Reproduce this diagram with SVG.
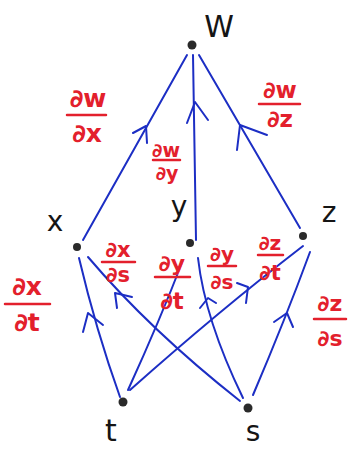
<svg xmlns="http://www.w3.org/2000/svg" width="350" height="450" viewBox="0 0 350 450">
<style>
.e{fill:none;stroke:#1c2ec4;stroke-width:2;stroke-linecap:round;stroke-linejoin:round}
.dot{fill:#2a2a2a}
.lbl{font-family:"DejaVu Sans",sans-serif;fill:#151515;text-anchor:middle}
.fr{font-family:"DejaVu Sans",sans-serif;fill:#e3202c;text-anchor:middle;font-weight:bold}
.bar{stroke:#e3202c;stroke-width:2.5;stroke-linecap:round}
</style>
<rect width="350" height="450" fill="#ffffff"/>
<g id="connectors">
  <path class="e" d="M187,55 L83,240"/>
  <path class="e" d="M133,133 L146,126 L147,143"/>
  <path class="e" d="M193,55 L196,240"/>
  <path class="e" d="M187,123 L195,102 L208,120"/>
  <path class="e" d="M199,55 L300,228"/>
  <path class="e" d="M237,150 L240,125 L267,135"/>
  <path class="e" d="M120,397 Q96,330 79,258"/>
  <path class="e" d="M83,332 L88,313 L103,325"/>
  <path class="e" d="M240,401 Q150,330 88,257"/>
  <path class="e" d="M117,308 L115,293 L132,297"/>
  <path class="e" d="M128,390 Q160,320 183,260"/>
  <path class="e" d="M243,398 Q205,320 198,258"/>
  <path class="e" d="M200,308 L208,298 L216,303"/>
  <path class="e" d="M130,390 Q220,310 303,246"/>
  <path class="e" d="M237,283 L248,287 L246,303"/>
  <path class="e" d="M253,395 Q285,320 310,252"/>
  <path class="e" d="M274,322 L287,313 L293,327"/>
</g>
<g id="node-w"><circle class="dot" cx="192" cy="45" r="4.5"/><text class="lbl" x="219" y="37" font-size="30">W</text></g>
<g id="node-x"><circle class="dot" cx="77" cy="247" r="4"/><text class="lbl" x="55" y="231" font-size="28">x</text></g>
<g id="node-y"><circle class="dot" cx="190" cy="243" r="4"/><text class="lbl" x="179" y="216" font-size="28">y</text></g>
<g id="node-z"><circle class="dot" cx="303" cy="236" r="4"/><text class="lbl" x="329" y="222" font-size="28">z</text></g>
<g id="node-t"><circle class="dot" cx="123" cy="402" r="4.5"/><text class="lbl" x="111" y="441" font-size="30">t</text></g>
<g id="node-s"><circle class="dot" cx="248" cy="408" r="4.5"/><text class="lbl" x="253" y="441" font-size="28">s</text></g>
<g id="label-dwdx"><text class="fr" x="88" y="107" font-size="25">∂w</text><line class="bar" x1="67" y1="115" x2="106" y2="115"/><text class="fr" x="87" y="142" font-size="25">∂x</text></g>
<g id="label-dwdz"><text class="fr" x="280" y="98" font-size="23">∂w</text><line class="bar" x1="259" y1="104" x2="300" y2="104"/><text class="fr" x="280" y="127" font-size="23">∂z</text></g>
<g id="label-dwdy"><text class="fr" x="166" y="157" font-size="19">∂w</text><line class="bar" x1="153" y1="160" x2="180" y2="160"/><text class="fr" x="167" y="180" font-size="19">∂y</text></g>
<g id="label-dxds"><text class="fr" x="118" y="257" font-size="21">∂x</text><line class="bar" x1="102" y1="262" x2="135" y2="262"/><text class="fr" x="118" y="282" font-size="21">∂s</text></g>
<g id="label-dydt"><text class="fr" x="172" y="271" font-size="22">∂y</text><line class="bar" x1="155" y1="277" x2="190" y2="277"/><text class="fr" x="172" y="309" font-size="23">∂t</text></g>
<g id="label-dyds"><text class="fr" x="222" y="261" font-size="20">∂y</text><line class="bar" x1="208" y1="266" x2="236" y2="266"/><text class="fr" x="222" y="289" font-size="20">∂s</text></g>
<g id="label-dzdt"><text class="fr" x="270" y="250" font-size="20">∂z</text><line class="bar" x1="258" y1="255" x2="283" y2="255"/><text class="fr" x="270" y="280" font-size="21">∂t</text></g>
<g id="label-dxdt"><text class="fr" x="27" y="295" font-size="25">∂x</text><line class="bar" x1="5" y1="304" x2="50" y2="304"/><text class="fr" x="27" y="331" font-size="25">∂t</text></g>
<g id="label-dzds"><text class="fr" x="330" y="311" font-size="22">∂z</text><line class="bar" x1="314" y1="319" x2="346" y2="319"/><text class="fr" x="330" y="346" font-size="22">∂s</text></g>
</svg>
